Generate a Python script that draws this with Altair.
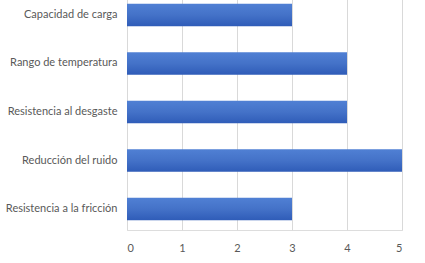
import altair as alt
import pandas as pd

categories = ["Capacidad de carga", "Rango de temperatura", "Resistencia al desgaste",
              "Reducción del ruido", "Resistencia a la fricción"]
values = [3, 4, 4, 5, 3]
x_ticks = [0, 1, 2, 3, 4, 5]

df = pd.DataFrame({"cat": categories, "val": values})

grad = alt.LinearGradient(
    gradient="linear", x1=0, y1=0, x2=0, y2=1,
    stops=[alt.GradientStop(color="#5080D4", offset=0),
           alt.GradientStop(color="#4472C8", offset=0.5),
           alt.GradientStop(color="#2F5CB8", offset=1)])

chart = alt.Chart(df).mark_bar(color=grad).encode(
    x=alt.X("val:Q", scale=alt.Scale(domain=[0, 5], nice=False),
            axis=alt.Axis(values=x_ticks, title=None, ticks=False, tickSize=0, domain=False,
                          grid=True, gridColor="#D9D9D9", labelPadding=12,
                          labelFont="Lato", labelFontSize=11, labelColor="#595959")),
    y=alt.Y("cat:N", sort=categories,
            scale=alt.Scale(paddingInner=0.535, paddingOuter=0.199),
            axis=alt.Axis(title=None, ticks=False, tickSize=0, domain=False, labelPadding=10,
                          labelFont="Lato", labelFontSize=11, labelColor="#595959",
                          labelLimit=200)),
).properties(
    width=275, height=236,
    autosize=alt.AutoSizeParams(type="none"),
    padding={"left": 127, "top": -6, "right": 23, "bottom": 33},
).configure_view(stroke=None).configure(background="white")

chart.save("out.html", embed_options={"renderer": "svg", "actions": False})
